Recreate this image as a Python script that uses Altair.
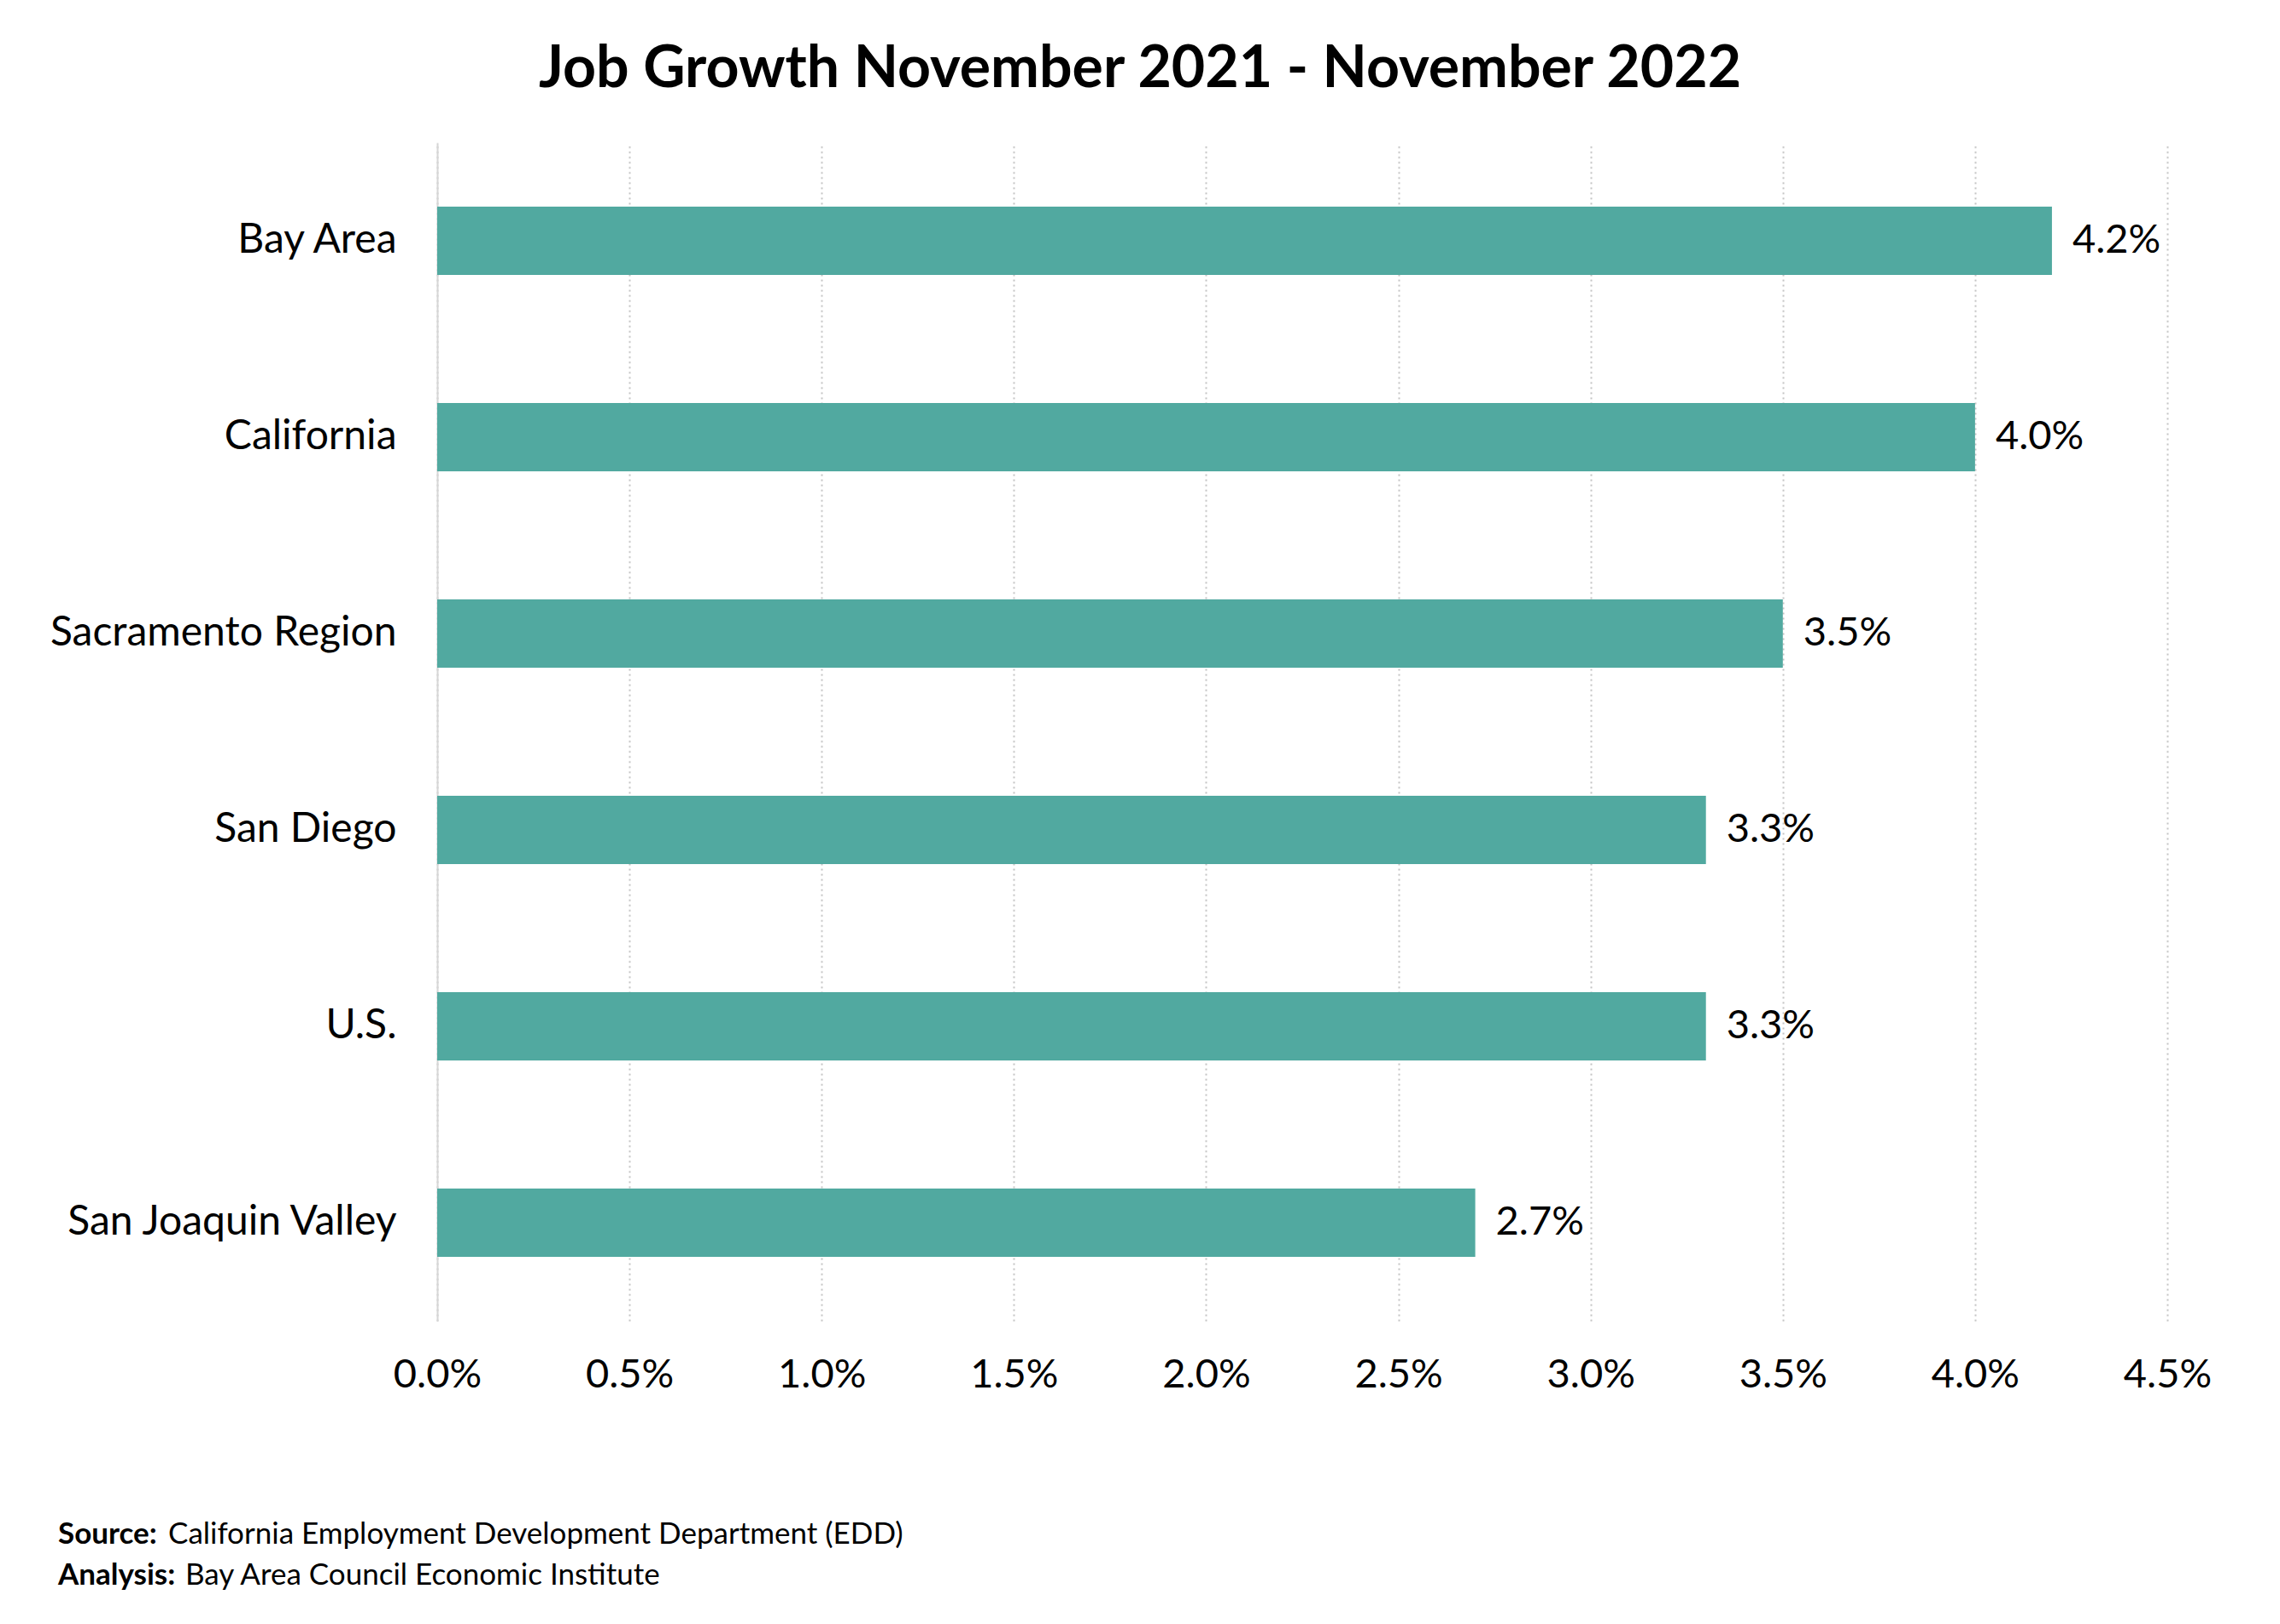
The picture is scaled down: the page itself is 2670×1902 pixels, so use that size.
import altair as alt
import pandas as pd

regions = ["Bay Area", "California", "Sacramento Region", "San Diego", "U.S.", "San Joaquin Valley"]
growth = [4.2, 4.0, 3.5, 3.3, 3.3, 2.7]
x_ticks = [0.0, 0.5, 1.0, 1.5, 2.0, 2.5, 3.0, 3.5, 4.0, 4.5]

title_text = "Job Growth November 2021 - November 2022"
source_bold = "Source:"
source_text = "California Employment Development Department (EDD)"
analysis_bold = "Analysis:"
analysis_text = "Bay Area Council Economic Institute"

df = pd.DataFrame({"region": regions, "growth": growth})
df["label"] = [f"{v:.1f}%" for v in growth]

FONT = "Lato"
BAR = "#51a9a0"

x_enc = alt.X(
    "growth:Q",
    scale=alt.Scale(domain=[0, 4.5], nice=False),
    axis=alt.Axis(
        values=x_ticks,
        labelExpr="format(datum.value, '.1f') + '%'",
        title=None,
        grid=True,
        gridColor="#c4c4c4",
        gridDash=[2, 4],
        gridWidth=2,
        domain=False,
        ticks=False,
        labelFlush=False,
        labelPadding=40,
        labelFontSize=47,
        labelFont=FONT,
        labelColor="#000000",
    ),
)
y_enc = alt.Y(
    "region:N",
    sort=regions,
    scale=alt.Scale(paddingInner=0.652, paddingOuter=0.326),
    axis=alt.Axis(
        title=None,
        ticks=False,
        domain=True,
        domainColor="#d6d6d6",
        domainWidth=2,
        grid=False,
        labelLimit=0,
        labelPadding=48,
        labelFontSize=48,
        labelFont=FONT,
        labelColor="#000000",
    ),
)

base = alt.Chart(df)
bars = base.mark_bar(color=BAR).encode(x=x_enc, y=y_enc)
labels = base.mark_text(
    align="left", baseline="middle", dx=24, fontSize=47, font=FONT, color="#000000"
).encode(x="growth:Q", y=alt.Y("region:N", sort=regions), text="label:N")

one = pd.DataFrame({"a": [0]})
fb = dict(align="left", baseline="alphabetic", fontSize=35, font=FONT, color="#000000")
src_b = alt.Chart(one).mark_text(fontWeight="bold", text=source_bold, **fb).encode(
    x=alt.value(-444), y=alt.value(1641))
src_t = alt.Chart(one).mark_text(text=source_text, **fb).encode(
    x=alt.value(-315), y=alt.value(1641))
ana_b = alt.Chart(one).mark_text(fontWeight="bold", text=analysis_bold, **fb).encode(
    x=alt.value(-444), y=alt.value(1689))
ana_t = alt.Chart(one).mark_text(text=analysis_text, **fb).encode(
    x=alt.value(-295), y=alt.value(1689))

chart = alt.layer(bars, labels, src_b, src_t, ana_b, ana_t).properties(
    width=2026,
    height=1380,
    title=alt.TitleParams(
        text=title_text,
        font=FONT,
        fontSize=68,
        fontWeight="bold",
        color="#000000",
        anchor="middle",
        dx=-190,
        baseline="alphabetic",
        offset=-3,
    ),
    autosize=alt.AutoSizeParams(type="none"),
    padding={"left": 504, "top": 159, "right": 124, "bottom": 347},
).configure(background="white", view=alt.ViewConfig(stroke=None))

chart.save("out.html", embed_options={"renderer": "svg", "actions": False})
